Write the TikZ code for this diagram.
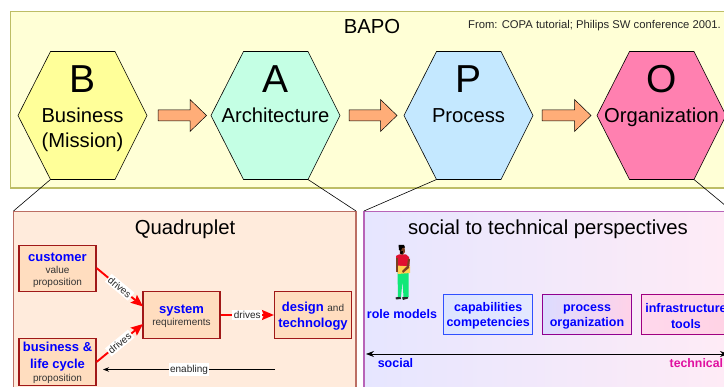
\documentclass[tikz,border=0pt]{standalone}
\usepackage{fontspec}
\setmainfont{Liberation Sans}
\usetikzlibrary{arrows.meta,calc}
\definecolor{frameY}{HTML}{BDBD66}
\definecolor{fillY}{HTML}{FFFFD6}
\definecolor{arrowF}{HTML}{FFAD78}
\definecolor{boxF}{HTML}{FFDDBF}
\definecolor{boxE}{HTML}{A01818}
\definecolor{panelA}{HTML}{FFEBDC}
\definecolor{panelAE}{HTML}{BC6E64}
\definecolor{panelBE}{HTML}{B864B8}
\definecolor{techC}{HTML}{E010A0}
\definecolor{hexB}{HTML}{FFFF99}
\definecolor{hexA}{HTML}{C4FFE4}
\definecolor{hexP}{HTML}{C4E8FF}
\definecolor{hexO}{HTML}{FF80B0}
\definecolor{shadeL}{HTML}{E6E6FF}
\definecolor{shadeR}{HTML}{FEEBF6}
\definecolor{capE}{HTML}{3050FF}
\definecolor{procE}{HTML}{900090}
\definecolor{infE}{HTML}{A00080}
\definecolor{capL}{HTML}{DCE4FF}
\definecolor{capR}{HTML}{E4E8FF}
\definecolor{procL}{HTML}{DCDCFF}
\definecolor{procR}{HTML}{FFD2E8}
\definecolor{infL}{HTML}{FFD8EC}
\definecolor{infR}{HTML}{FFD2E4}
\definecolor{pGreen}{HTML}{10E878}
\definecolor{pRed}{HTML}{E01030}
\definecolor{pYellow}{HTML}{FFD050}
\definecolor{pSkin}{HTML}{7A4020}
\newcommand{\fs}[1]{\fontsize{#1}{#1}\selectfont}
\newcommand{\bl}[1]{{\fontsize{13}{16}\bfseries\selectfont\color{blue}#1}}
\newcommand{\sm}[1]{{\fontsize{10}{12.5}\selectfont\color{black!80}#1}}
\newcommand{\hexa}[2]{%
  \draw[black,line width=0.6pt,line join=miter,fill=#2] ($(#1)+(-64.5,0)$) -- ($(#1)+(-32,-64)$) -- ($(#1)+(32.5,-64)$) -- ($(#1)+(64.5,0)$) -- ($(#1)+(32.5,64)$) -- ($(#1)+(-32,64)$) -- cycle;}
\newcommand{\blockarrow}[3]{%
  \draw[black,line width=0.5pt,fill=arrowF,line join=miter] ($(#1)+(0,-5.5)$) -- ($(#2)+(-#3,-5.5)$) -- ($(#2)+(-#3,-16)$) -- (#2) -- ($(#2)+(-#3,16)$) -- ($(#2)+(-#3,5.5)$) -- ($(#1)+(0,5.5)$) -- cycle;}
\newcommand{\pstrut}{\rule{0pt}{12.5pt}}
\tikzset{
  x=1pt,y=-1pt,
  bigletter/.style={font=\fs{39},text=black,inner sep=0,anchor=base},
  hexlabel/.style={font=\fs{20.2},text=black,inner sep=0,anchor=base},
  paneltitle/.style={font=\fs{20.3},text=black,inner sep=0,anchor=base},
  redbox/.style={draw=boxE,line width=1.1pt,fill=boxF,minimum width=77pt,minimum height=46.5pt,inner sep=0,align=center,font=\fontsize{13}{16}\selectfont},
  bluelabel/.style={font=\fontsize{12.5}{15.5}\bfseries\selectfont,text=blue,align=center,inner sep=0,anchor=base},
  perspbox/.style={line width=1.1pt,minimum width=89pt,minimum height=40pt,inner sep=0,align=center,font=\fontsize{12.5}{15.4}\bfseries\selectfont,text=blue},
  redconn/.style={draw=red,line width=1.9pt,-{Stealth[length=12pt,width=10pt,inset=2pt]}},
  drivelabel/.style={fill=white,font=\fs{10},text=black!85,inner xsep=1.5pt,inner ysep=1.5pt},
  thinconn/.style={draw=black,line width=0.7pt,-{Stealth[length=6pt,width=4.5pt]}},
  spoke/.style={draw=black,line width=0.6pt},
}
\begin{document}
\begin{tikzpicture}
\useasboundingbox (0,0) rectangle (724,387);
\clip (0,0) rectangle (724,387);
% top band
\draw[frameY,line width=1.5pt,fill=fillY] (10.5,11.5) rectangle (740,188);
% panels
\draw[panelAE,line width=1.3pt,fill=panelA] (13.5,211.5) rectangle (356,400);
\shade[left color=shadeL,right color=shadeR] (364,211.5) rectangle (724,400);
\draw[panelBE,line width=1.3pt] (364,400) -- (364,211.5) -- (740,211.5);
\coordinate (qtl) at (13.5,211);
\coordinate (qtr) at (356,211);
\coordinate (ptl) at (364,211);
\coordinate (ptr) at (732,211);
\coordinate (Bc) at (82.5,115.5);
\coordinate (Ac) at (275.5,115.5);
\coordinate (Pc) at (468.5,115.5);
\coordinate (Oc) at (661.5,115.5);
\coordinate (Bbl) at (50.5,179.5);
\coordinate (Abr) at (308,179.5);
\coordinate (Pbl) at (436.5,179.5);
\coordinate (Obr) at (694,179.5);
\draw[spoke] (Bbl) -- (qtl);
\draw[spoke] (Abr) -- (qtr);
\draw[spoke] (Pbl) -- (ptl);
\draw[spoke] (Obr) -- (ptr);
% hexagons
\hexa{Bc}{hexB}
\hexa{Ac}{hexA}
\hexa{Pc}{hexP}
\hexa{Oc}{hexO}
% block arrows
\coordinate (a1s) at (158,115.5); \coordinate (a1e) at (206.5,115.5);
\coordinate (a2s) at (349,115.5); \coordinate (a2e) at (397,115.5);
\coordinate (a3s) at (542,115.5); \coordinate (a3e) at (591,115.5);
\blockarrow{a1s}{a1e}{16.5}
\blockarrow{a2s}{a2e}{16.5}
\blockarrow{a3s}{a3e}{16.5}
% top texts
\node[paneltitle] (bapo) at (372,33.5) {BAPO};
\node[font=\fs{11.27},text=black!85,inner sep=0,anchor=base west] (from) at (468,29) {From: COPA tutorial; Philips SW conference 2001.};
\node[bigletter] (lB) at (82.5,92.5) {B};
\node[bigletter] (lA) at (275.5,92.5) {A};
\node[bigletter] (lP) at (468.5,92.5) {P};
\node[bigletter] (lO) at (661.5,92.5) {O};
\node[hexlabel] (tB1) at (82.5,123) {Business};
\node[hexlabel] (tB2) at (82.5,148) {(Mission)};
\node[hexlabel] (tA) at (275.5,123) {Architecture};
\node[hexlabel] (tP) at (468.5,123) {Process};
\node[hexlabel] (tO) at (661.5,123) {Organization};
% Quadruplet panel
\node[paneltitle] (qt) at (185,235) {Quadruplet};
\node[redbox] (cust) at (57.5,268.5) {\rule{0pt}{12.5pt}\bl{customer}\\[-4pt]\sm{value}\\[-4pt]\sm{proposition}};
\node[redbox] (sys) at (181.5,315) {\rule{0pt}{11.5pt}\bl{system}\\[-3.6pt]\sm{requirements}};
\node[redbox] (des) at (313,315) {\rule{0pt}{11.5pt}\bl{design} \sm{and}\\[0.7pt]\bl{technology}};
\node[redbox] (bus) at (57.5,362) {\rule{0pt}{10.5pt}\bl{business \&}\\[1pt]\bl{life cycle}\\[-3pt]\sm{proposition}};
\coordinate (sysU) at (143,306.5);
\coordinate (sysL) at (143,324);
\coordinate (custO) at (96.5,268);
\coordinate (busO) at (96.5,362);
\coordinate (enS) at (275,369.5);
\coordinate (enE) at (103,369.5);
\draw[redconn] (custO) -- (sysU) node[midway,sloped,drivelabel] (d1) {drives};
\draw[redconn] (busO) -- (sysL) node[midway,sloped,drivelabel] (d2) {drives};
\draw[redconn] (sys.east) -- (des.west) node[midway,drivelabel] (d3) {drives};
\draw[thinconn] (enS) -- (enE) node[midway,drivelabel] (en) {enabling};
% perspectives panel
\node[paneltitle] (st) at (548,235) {social to technical perspectives};
\node[bluelabel] (rm) at (402,318.3) {role models};
\node[perspbox,draw=capE,left color=capL,right color=capR] (cap) at (488.2,314.3) {\pstrut capabilities\\competencies};
\node[perspbox,draw=procE,left color=procL,right color=procR] (proc) at (587,314.3) {\pstrut process\\organization};
\node[perspbox,draw=infE,left color=infL,right color=infR] (inf) at (686,314.3) {\pstrut infrastructure\\tools};
\coordinate (axL) at (366,354);
\coordinate (axR) at (728,354);
\draw[draw=black,line width=0.7pt,{Stealth[length=8pt,width=6pt]}-{Stealth[length=8pt,width=6pt]}] (axL) -- (axR);
\node[bluelabel,anchor=base] (soc) at (395.5,368) {social};
\node[font=\fontsize{12.3}{15.5}\bfseries\selectfont,text=techC,inner sep=0,anchor=base west] (tech) at (669.5,368) {technical};
% person
\fill[black!85] (395.5,297.5) -- (400.5,296.5) -- (401,299) -- (396,299.5) -- cycle;
\fill[black!85] (402,297.5) -- (408,296) -- (408,298.5) -- (403,300) -- cycle;
\fill[pGreen] (397.5,272) -- (408.5,272) -- (408.5,297) -- (403.5,297) -- (402.5,281) -- (401,297) -- (398,297) -- cycle;
\fill[pRed] (396,256) -- (399,254.5) -- (406,254.5) -- (409,257) -- (409.5,266) -- (397,266) -- cycle;
\fill[pYellow] (396.5,265.5) -- (410,266.5) -- (410,273) -- (398,274) -- cycle;
\fill[pSkin] (396,258) -- (397.5,258) -- (397.5,272) -- (396,272) -- cycle;
\fill[pSkin] (408,259) -- (410,259) -- (409,268) -- (403,273) -- (402,271) -- (407,266) -- cycle;
\fill[pSkin] (399.5,247) -- (404.5,247) -- (405,252) -- (402.5,255) -- (400,254) -- cycle;
\fill[black] (398.5,245) -- (404,245) -- (405,247.5) -- (402,248) -- (401,251) -- (399,250) -- cycle;
\fill[black] (400,251.5) -- (403,251) -- (402.5,254) -- (400.5,254) -- cycle;
\end{tikzpicture}
\end{document}
